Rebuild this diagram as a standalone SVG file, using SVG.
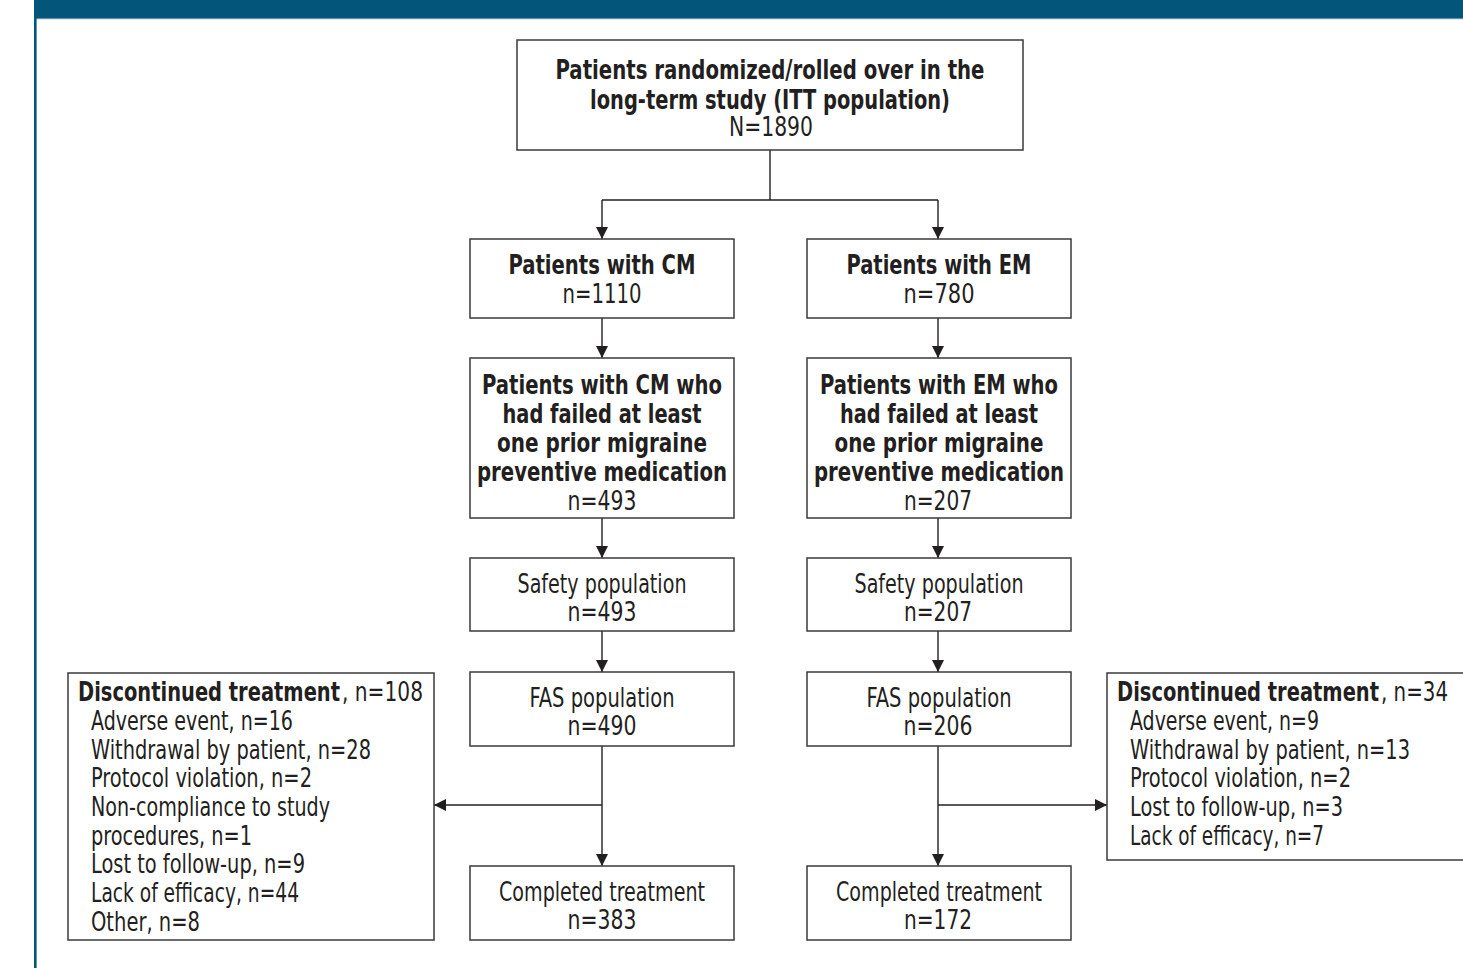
<svg xmlns="http://www.w3.org/2000/svg" width="1463" height="968" viewBox="0 0 1463 968">
<style>
.box{fill:#fff;stroke:#3a3a3a;stroke-width:1.5}
.t{font-family:"Liberation Sans Narrow","DejaVu Sans Condensed","Liberation Sans",sans-serif;font-size:26px;fill:#231f20}
.b{font-weight:bold}
.c{text-anchor:middle}
.con{fill:none;stroke:#231f20;stroke-width:1.4}
</style>
<defs>
<marker id="ah" viewBox="0 0 12 12" refX="12" refY="6" markerWidth="12" markerHeight="12" markerUnits="userSpaceOnUse" orient="auto">
<path d="M0,0 L12,6 L0,12 Z" fill="#231f20"/>
</marker>
</defs>
<rect width="1463" height="968" fill="#fff"/>
<g id="frame">
<rect x="34" y="0" width="1429" height="18" fill="#03557a"/>
<rect x="36" y="18" width="1427" height="1.2" fill="#5d93ad"/>
<rect x="34" y="0" width="2.6" height="968" fill="#03557a"/>
</g>
<g id="connectors">
<path class="con" d="M770,150 V200"/>
<path class="con" d="M602,200 H938"/>
<path class="con" d="M602,200 V239" marker-end="url(#ah)"/>
<path class="con" d="M938,200 V239" marker-end="url(#ah)"/>
<path class="con" d="M602,318 V358" marker-end="url(#ah)"/>
<path class="con" d="M938,318 V358" marker-end="url(#ah)"/>
<path class="con" d="M602,518 V558" marker-end="url(#ah)"/>
<path class="con" d="M938,518 V558" marker-end="url(#ah)"/>
<path class="con" d="M602,631 V672" marker-end="url(#ah)"/>
<path class="con" d="M938,631 V672" marker-end="url(#ah)"/>
<path class="con" d="M602,746 V866" marker-end="url(#ah)"/>
<path class="con" d="M938,746 V866" marker-end="url(#ah)"/>
<path class="con" d="M602,805 H434" marker-end="url(#ah)"/>
<path class="con" d="M938,805 H1107" marker-end="url(#ah)"/>
</g>
<g id="itt">
<rect class="box" x="517" y="40" width="506" height="110"/>
<text class="t b c" x="770" y="79" textLength="429" lengthAdjust="spacingAndGlyphs">Patients randomized/rolled over in the</text>
<text class="t b c" x="770" y="109" textLength="360" lengthAdjust="spacingAndGlyphs">long-term study (ITT population)</text>
<text class="t c" x="771" y="136" textLength="84" lengthAdjust="spacingAndGlyphs">N=1890</text>
</g>
<g id="cm">
<rect class="box" x="470" y="239" width="264" height="79"/>
<text class="t b c" x="602" y="274" textLength="187" lengthAdjust="spacingAndGlyphs">Patients with CM</text>
<text class="t c" x="602" y="303" textLength="79" lengthAdjust="spacingAndGlyphs">n=1110</text>
</g>
<g id="em">
<rect class="box" x="807" y="239" width="264" height="79"/>
<text class="t b c" x="939" y="274" textLength="185" lengthAdjust="spacingAndGlyphs">Patients with EM</text>
<text class="t c" x="939" y="303" textLength="71" lengthAdjust="spacingAndGlyphs">n=780</text>
</g>
<g id="cm-failed">
<rect class="box" x="470" y="358" width="264" height="160"/>
<text class="t b c" x="602" y="394" textLength="240" lengthAdjust="spacingAndGlyphs">Patients with CM who</text>
<text class="t b c" x="602" y="423" textLength="199" lengthAdjust="spacingAndGlyphs">had failed at least</text>
<text class="t b c" x="602" y="452" textLength="210" lengthAdjust="spacingAndGlyphs">one prior migraine</text>
<text class="t b c" x="602" y="481" textLength="250" lengthAdjust="spacingAndGlyphs">preventive medication</text>
<text class="t c" x="602" y="510" textLength="69" lengthAdjust="spacingAndGlyphs">n=493</text>
</g>
<g id="em-failed">
<rect class="box" x="807" y="358" width="264" height="160"/>
<text class="t b c" x="939" y="394" textLength="238" lengthAdjust="spacingAndGlyphs">Patients with EM who</text>
<text class="t b c" x="939" y="423" textLength="198" lengthAdjust="spacingAndGlyphs">had failed at least</text>
<text class="t b c" x="939" y="452" textLength="209" lengthAdjust="spacingAndGlyphs">one prior migraine</text>
<text class="t b c" x="939" y="481" textLength="250" lengthAdjust="spacingAndGlyphs">preventive medication</text>
<text class="t c" x="938" y="510" textLength="68" lengthAdjust="spacingAndGlyphs">n=207</text>
</g>
<g id="cm-safety">
<rect class="box" x="470" y="558" width="264" height="73"/>
<text class="t c" x="602" y="593" textLength="169" lengthAdjust="spacingAndGlyphs">Safety population</text>
<text class="t c" x="602" y="621" textLength="69" lengthAdjust="spacingAndGlyphs">n=493</text>
</g>
<g id="em-safety">
<rect class="box" x="807" y="558" width="264" height="73"/>
<text class="t c" x="939" y="593" textLength="169" lengthAdjust="spacingAndGlyphs">Safety population</text>
<text class="t c" x="938" y="621" textLength="68" lengthAdjust="spacingAndGlyphs">n=207</text>
</g>
<g id="cm-fas">
<rect class="box" x="470" y="672" width="264" height="74"/>
<text class="t c" x="602" y="707" textLength="145" lengthAdjust="spacingAndGlyphs">FAS population</text>
<text class="t c" x="602" y="735" textLength="69" lengthAdjust="spacingAndGlyphs">n=490</text>
</g>
<g id="em-fas">
<rect class="box" x="807" y="672" width="264" height="74"/>
<text class="t c" x="939" y="707" textLength="145" lengthAdjust="spacingAndGlyphs">FAS population</text>
<text class="t c" x="938" y="735" textLength="69" lengthAdjust="spacingAndGlyphs">n=206</text>
</g>
<g id="cm-completed">
<rect class="box" x="470" y="866" width="264" height="74"/>
<text class="t c" x="602" y="901" textLength="206" lengthAdjust="spacingAndGlyphs">Completed treatment</text>
<text class="t c" x="602" y="929" textLength="69" lengthAdjust="spacingAndGlyphs">n=383</text>
</g>
<g id="em-completed">
<rect class="box" x="807" y="866" width="264" height="74"/>
<text class="t c" x="939" y="901" textLength="206" lengthAdjust="spacingAndGlyphs">Completed treatment</text>
<text class="t c" x="938" y="929" textLength="68" lengthAdjust="spacingAndGlyphs">n=172</text>
</g>
<g id="cm-discontinued">
<rect class="box" x="68" y="673" width="366" height="267"/>
<text class="t b" x="78" y="701" textLength="262" lengthAdjust="spacingAndGlyphs">Discontinued treatment</text>
<text class="t" x="342" y="701" textLength="81" lengthAdjust="spacingAndGlyphs">, n=108</text>
<text class="t" x="91" y="730" textLength="202" lengthAdjust="spacingAndGlyphs">Adverse event, n=16</text>
<text class="t" x="91" y="759" textLength="280" lengthAdjust="spacingAndGlyphs">Withdrawal by patient, n=28</text>
<text class="t" x="91" y="787" textLength="221" lengthAdjust="spacingAndGlyphs">Protocol violation, n=2</text>
<text class="t" x="91" y="816" textLength="239" lengthAdjust="spacingAndGlyphs">Non-compliance to study</text>
<text class="t" x="91" y="845" textLength="161" lengthAdjust="spacingAndGlyphs">procedures, n=1</text>
<text class="t" x="91" y="873" textLength="214" lengthAdjust="spacingAndGlyphs">Lost to follow-up, n=9</text>
<text class="t" x="91" y="902" textLength="208" lengthAdjust="spacingAndGlyphs">Lack of efficacy, n=44</text>
<text class="t" x="91" y="931" textLength="109" lengthAdjust="spacingAndGlyphs">Other, n=8</text>
</g>
<g id="em-discontinued">
<rect class="box" x="1107" y="673" width="358" height="187"/>
<text class="t b" x="1117" y="701" textLength="262" lengthAdjust="spacingAndGlyphs">Discontinued treatment</text>
<text class="t" x="1381" y="701" textLength="67" lengthAdjust="spacingAndGlyphs">, n=34</text>
<text class="t" x="1130" y="730" textLength="189" lengthAdjust="spacingAndGlyphs">Adverse event, n=9</text>
<text class="t" x="1130" y="759" textLength="280" lengthAdjust="spacingAndGlyphs">Withdrawal by patient, n=13</text>
<text class="t" x="1130" y="787" textLength="221" lengthAdjust="spacingAndGlyphs">Protocol violation, n=2</text>
<text class="t" x="1130" y="816" textLength="213" lengthAdjust="spacingAndGlyphs">Lost to follow-up, n=3</text>
<text class="t" x="1130" y="845" textLength="194" lengthAdjust="spacingAndGlyphs">Lack of efficacy, n=7</text>
</g>
</svg>
